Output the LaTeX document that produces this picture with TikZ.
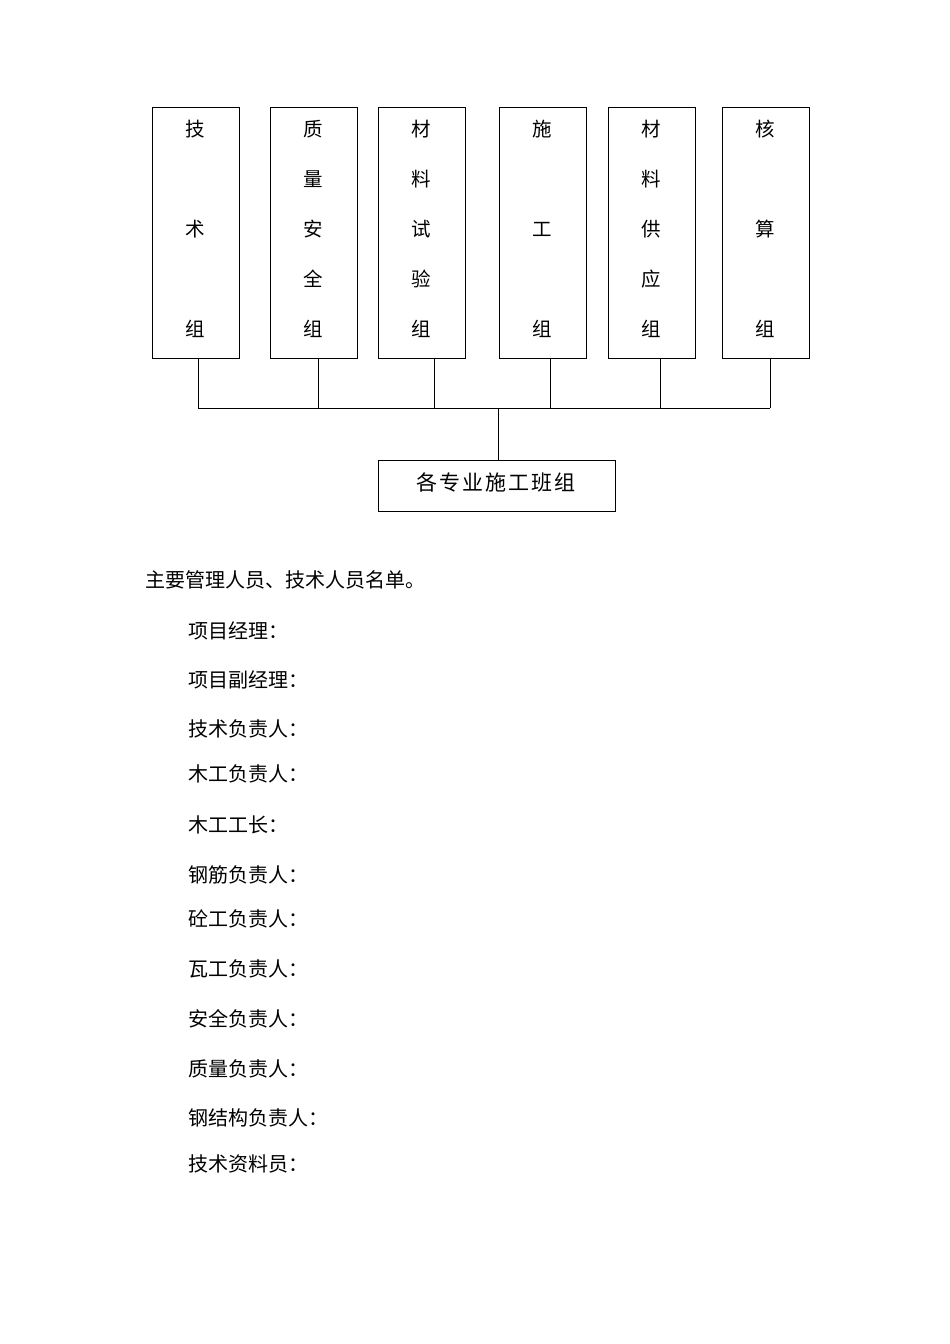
\documentclass[tikz,border=0pt]{standalone}
\usepackage{fontspec}
\newfontfamily\cjk{Noto Sans CJK SC}
\begin{document}
\begin{tikzpicture}[x=1pt,y=-1pt,
  box/.style={draw,line width=0.8pt,minimum width=87pt,minimum height=251pt,anchor=north west,inner sep=0pt},
  ch/.style={font=\cjk\fontsize{19.5}{19.5}\selectfont,inner sep=0pt},
  line/.style={draw,line width=0.8pt},
  txt/.style={font=\cjk\fontsize{20}{20}\selectfont,anchor=west,inner sep=0pt}]
\useasboundingbox (0,0) rectangle (950,1344);
\node[box] (b1) at (152,107) {};
\node[box] (b2) at (270,107) {};
\node[box] (b3) at (378,107) {};
\node[box] (b4) at (499,107) {};
\node[box] (b5) at (608,107) {};
\node[box] (b6) at (722,107) {};
% texts
\node[ch] at (195.5,129) {技};
\node[ch] at (195.5,229) {术};
\node[ch] at (195.5,329) {组};
\foreach \c [count=\i] in {质,量,安,全,组} \node[ch] at (313.5,79+50*\i) {\c};
\foreach \c [count=\i] in {材,料,试,验,组} \node[ch] at (421.5,79+50*\i) {\c};
\node[ch] at (542.5,129) {施};
\node[ch] at (542.5,229) {工};
\node[ch] at (542.5,329) {组};
\foreach \c [count=\i] in {材,料,供,应,组} \node[ch] at (651.5,79+50*\i) {\c};
\node[ch] at (765.5,129) {核};
\node[ch] at (765.5,229) {算};
\node[ch] at (765.5,329) {组};
% bottom box
\node[draw,line width=0.8pt,minimum width=237pt,minimum height=51pt,anchor=north west,inner sep=0pt] (bt) at (378,460) {};
\node[ch,font=\cjk\fontsize{21}{21}\selectfont] at (496,482) {各\kern2pt 专\kern2pt 业\kern2pt 施\kern2pt 工\kern2pt 班\kern2pt 组};
% connectors
\coordinate (j1) at (198,408);
\coordinate (j6) at (770,408);
\coordinate (jm) at (498,408);
\draw[line] (b1.south -| j1) -- (j1);
\draw[line] (b2.south -| 318,0) -- (318,408);
\draw[line] (b3.south -| 434,0) -- (434,408);
\draw[line] (b4.south -| 550,0) -- (550,408);
\draw[line] (b5.south -| 660,0) -- (660,408);
\draw[line] (b6.south -| j6) -- (j6);
\draw[line] (j1) -- (j6);
\draw[line] (jm) -- (bt.north -| jm);
% list
\node[txt] at (145,580) {主要管理人员、技术人员名单。};
\foreach \y/\t in {631/项目经理：,680/项目副经理：,729/技术负责人：,774/木工负责人：,825/木工工长：,875/钢筋负责人：,919/砼工负责人：,969/瓦工负责人：,1019/安全负责人：,1069/质量负责人：,1118/钢结构负责人：,1164/技术资料员：}
  \node[txt] at (188,\y) {\t};
\end{tikzpicture}
\end{document}
